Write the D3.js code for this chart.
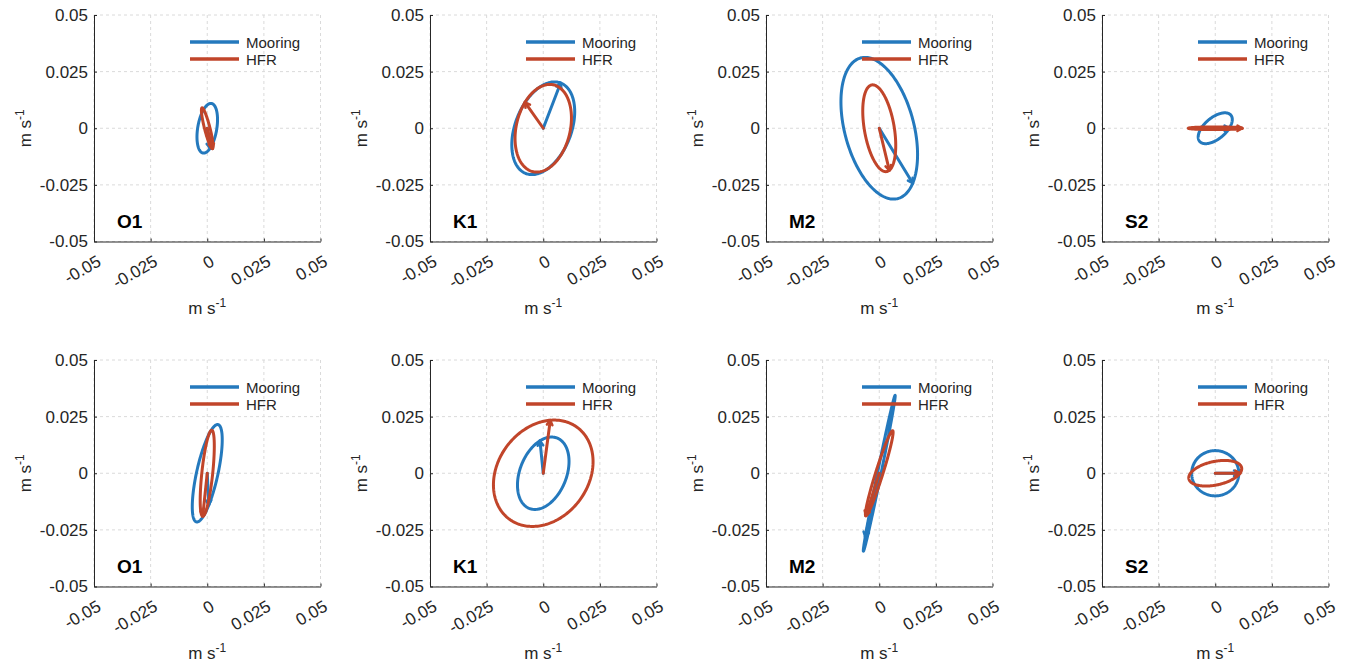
<!DOCTYPE html>
<html>
<head>
<meta charset="utf-8">
<script src="https://cdn.jsdelivr.net/npm/d3@7"></script>
<style>
  html, body { margin: 0; padding: 0; background: #fff; }
  svg { display: block; font-family: "Liberation Sans", Arial, Helvetica, sans-serif; }
</style>
</head>
<body>
<svg id="chart" width="1345" height="664"></svg>
<script>
// Tidal current ellipses: mooring vs HF radar, four constituents, two sites (rows)
const constituents = ["O1", "K1", "M2", "S2"];
const seriesNames = ["Mooring", "HFR"];
const tickValues = [-0.05, -0.025, 0, 0.025, 0.05];
const tickLabels = ["-0.05", "-0.025", "0", "0.025", "0.05"];

// Ellipse parameters (m s^-1, degrees). Outer index: row, inner index: constituent.
// phase = parametric angle of the plotted current vector
const mooringMajor = [[0.0111, 0.0214, 0.0321, 0.0090], [0.0220, 0.0167, 0.0351, 0.0104]];
const mooringMinor = [[0.0042, 0.0124, 0.0153, 0.0047], [0.0047, 0.0103, 0.0008, 0.0100]];
const mooringIncl  = [[80.4, 69.0, -75.2, 40.0], [77.5, 68.4, 78.5, 0.0]];
const mooringPhase = [[-140, 0, 32, -58], [-128, 40, 145, 0]];

const hfrMajor = [[0.0093, 0.0197, 0.0194, 0.0119], [0.0191, 0.0252, 0.0197, 0.0119]];
const hfrMinor = [[0.0012, 0.0119, 0.0066, 0.0006], [0.0024, 0.0200, 0.0016, 0.0052]];
const hfrIncl  = [[-75.7, 76.5, -80.3, 0.0], [84.0, 53.4, 72.5, 12.0]];
const hfrPhase = [[0, 62, 11, 0], [180, 35, 180, -26]];

// Layout
const colLeft = [94, 430, 766, 1102];
const rowTop = [15, 360];
const size = 226.5;
const colors = { Mooring: "#2479bd", HFR: "#c1452a" };
const axisColor = "#262626";

const svg = d3.select("#chart");

function ellipsePoints(a, b, inclDeg, phaseDeg) {
  const th = inclDeg * Math.PI / 180;
  const ph = phaseDeg * Math.PI / 180;
  const n = 240;
  const pts = [];
  for (let k = 0; k <= n; k++) {
    const t = ph + 2 * Math.PI * k / n;
    const p = a * Math.cos(t), q = b * Math.sin(t);
    pts.push([p * Math.cos(th) - q * Math.sin(th), p * Math.sin(th) + q * Math.cos(th)]);
  }
  return pts;
}

function drawSeries(g, x, y, a, b, incl, phase, color) {
  const pts = ellipsePoints(a, b, incl, phase);
  const line = d3.line().x(d => x(d[0])).y(d => y(d[1]));
  g.append("path").attr("d", line(pts))
    .attr("fill", "none").attr("stroke", color).attr("stroke-width", 3)
    .attr("stroke-linejoin", "round");
  // current vector from the origin to the phase point, with a small arrowhead
  const tip = pts[0];
  g.append("path").attr("d", line([[0, 0], tip]))
    .attr("fill", "none").attr("stroke", color).attr("stroke-width", 3)
    .attr("stroke-linecap", "round");
  const ox = x(0), oy = y(0), tx = x(tip[0]), ty = y(tip[1]);
  const len = Math.hypot(tx - ox, ty - oy);
  const dx = (tx - ox) / len, dy = (ty - oy) / len;
  const L = 5.5, ang = 30 * Math.PI / 180;
  const w = s => {
    const c = Math.cos(s * ang), sn = Math.sin(s * ang);
    const rx = dx * c - dy * sn, ry = dx * sn + dy * c;
    return [tx - L * rx, ty - L * ry];
  };
  const w1 = w(1), w2 = w(-1);
  g.append("path").attr("d", `M${w1[0]},${w1[1]}L${tx},${ty}L${w2[0]},${w2[1]}`)
    .attr("fill", "none").attr("stroke", color).attr("stroke-width", 2.5)
    .attr("stroke-linejoin", "round").attr("stroke-linecap", "round");
}

function unitLabel(sel) {
  sel.append("tspan").text("m s");
  sel.append("tspan").attr("font-size", 12).attr("dy", -7).text("-1");
}

rowTop.forEach((top, r) => {
  colLeft.forEach((left, c) => {
    const g = svg.append("g").attr("transform", `translate(${left},${top})`);
    const x = d3.scaleLinear().domain([-0.05, 0.05]).range([0, size]);
    const y = d3.scaleLinear().domain([-0.05, 0.05]).range([size, 0]);

    // dashed grid
    const grid = g.append("g").attr("stroke", "#dadada").attr("stroke-width", 1)
      .attr("stroke-dasharray", "3,3");
    tickValues.forEach(v => {
      grid.append("line").attr("x1", x(v)).attr("x2", x(v)).attr("y1", 0).attr("y2", size);
      grid.append("line").attr("y1", y(v)).attr("y2", y(v)).attr("x1", 0).attr("x2", size);
    });

    // axes
    const xAxis = d3.axisBottom(x).tickValues(tickValues)
      .tickFormat((d, i) => tickLabels[i]).tickSizeInner(-3).tickSizeOuter(0).tickPadding(0);
    const yAxis = d3.axisLeft(y).tickValues(tickValues)
      .tickFormat((d, i) => tickLabels[i]).tickSizeInner(-3).tickSizeOuter(0).tickPadding(6);

    const gx = g.append("g").attr("transform", `translate(0,${size})`).call(xAxis);
    const gy = g.append("g").call(yAxis);
    [gx, gy].forEach(ax => {
      ax.attr("font-family", null).attr("font-size", 17);
      ax.select(".domain").attr("stroke", axisColor);
      ax.selectAll(".tick line").attr("stroke", axisColor);
      ax.selectAll(".tick text").attr("fill", axisColor);
    });
    gx.selectAll(".tick text")
      .attr("y", 0).attr("x", 0).attr("dy", "0.9em")
      .attr("text-anchor", "end")
      .attr("transform", "translate(0,10) rotate(-30)");

    // axis titles
    g.append("text").attr("x", size / 2).attr("y", size + 72)
      .attr("text-anchor", "middle").attr("font-size", 17).attr("fill", axisColor)
      .call(unitLabel);
    g.append("text").attr("transform", `translate(-63,${size / 2}) rotate(-90)`)
      .attr("text-anchor", "middle").attr("font-size", 17).attr("fill", axisColor)
      .call(unitLabel);

    // ellipses
    drawSeries(g, x, y, mooringMajor[r][c], mooringMinor[r][c], mooringIncl[r][c], mooringPhase[r][c], colors.Mooring);
    drawSeries(g, x, y, hfrMajor[r][c], hfrMinor[r][c], hfrIncl[r][c], hfrPhase[r][c], colors.HFR);

    // legend
    seriesNames.forEach((name, i) => {
      const ly = 27 + 17 * i;
      g.append("line").attr("x1", 96).attr("x2", 145).attr("y1", ly).attr("y2", ly)
        .attr("stroke", colors[name]).attr("stroke-width", 3.5);
      g.append("text").attr("x", 152).attr("y", ly + 5.5)
        .attr("font-size", 15).attr("fill", axisColor).text(name);
    });

    // constituent label
    g.append("text").attr("x", 23).attr("y", size - 13.5)
      .attr("font-size", 19).attr("font-weight", "bold").attr("fill", "#000")
      .text(constituents[c]);
  });
});
</script>
</body>
</html>
